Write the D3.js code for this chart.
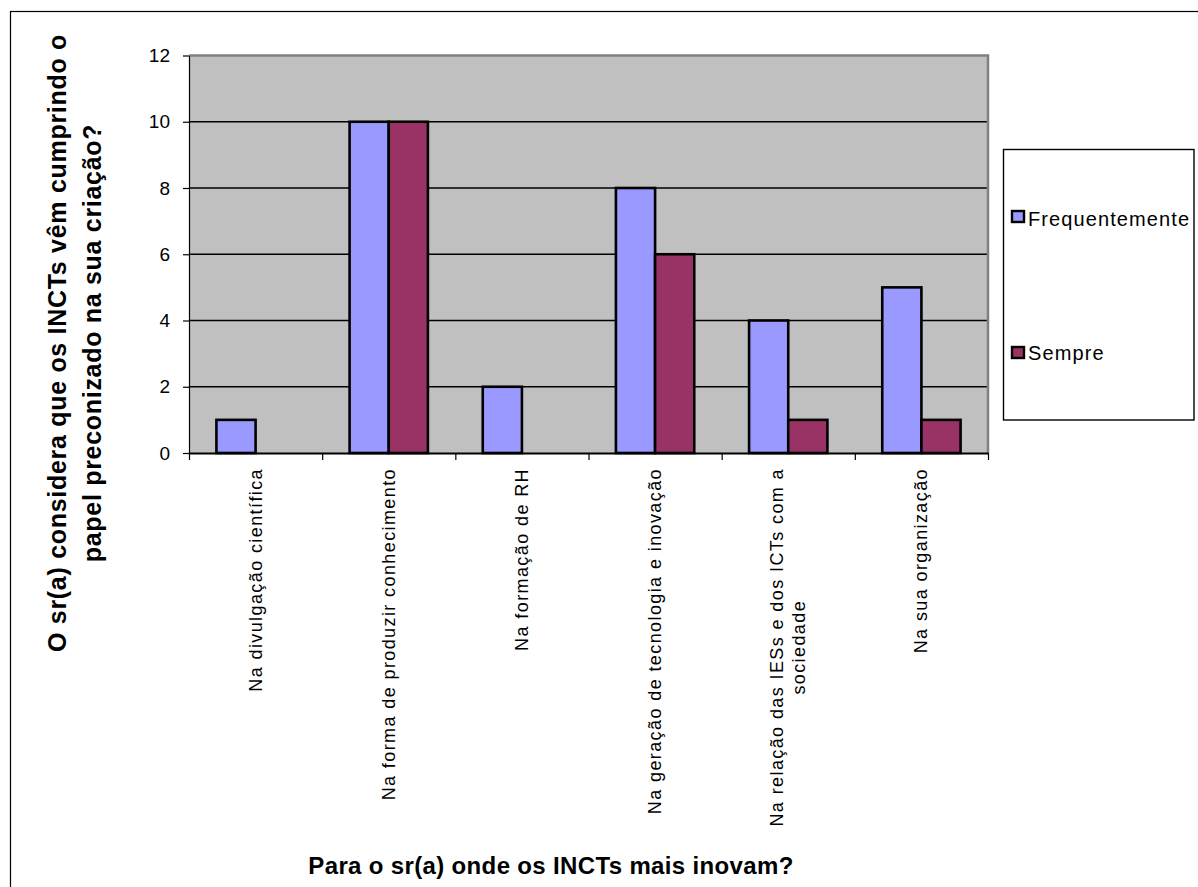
<!DOCTYPE html>
<html>
<head>
<meta charset="utf-8">
<script src="https://cdn.jsdelivr.net/npm/d3@7/dist/d3.min.js"></script>
<style>
  html, body { margin: 0; padding: 0; background: #fff; }
  svg { display: block; font-family: "Liberation Sans", Arial, sans-serif; }
</style>
</head>
<body>
<svg id="chart" width="1198" height="887"></svg>
<script>
// Categories (line breaks mark wrapped labels)
const categories = [
  "Na divulgação científica",
  "Na forma de produzir conhecimento",
  "Na formação de RH",
  "Na geração de tecnologia e inovação",
  "Na relação das IESs e dos ICTs com a\nsociedade",
  "Na sua organização"
];
const seriesNames = ["Frequentemente", "Sempre"];
const frequentemente = [1, 10, 2, 8, 4, 5];
const sempre = [0, 10, 0, 6, 1, 1];
const yTicks = [0, 2, 4, 6, 8, 10, 12];
const seriesColors = ["#9999FF", "#993366"];

const yTitleLines = ["O sr(a) considera que os INCTs vêm cumprindo o", "papel preconizado na sua criação?"];
const xTitle = "Para o sr(a) onde os INCTs mais inovam?";

const svg = d3.select("#chart");

// outer frame (only top and left edges fall inside the view)
svg.append("rect")
  .attr("x", 10.5).attr("y", 11.5)
  .attr("width", 1300).attr("height", 1000)
  .attr("fill", "none").attr("stroke", "#000").attr("stroke-width", 1.2);

const plot = { left: 189, right: 988, top: 55.5, bottom: 453 };

const x0 = d3.scaleBand().domain(d3.range(categories.length))
  .range([plot.left, plot.right]).paddingInner(0).paddingOuter(0);
const x1 = d3.scaleBand().domain(seriesNames)
  .range([0, x0.bandwidth()]).paddingInner(0).paddingOuter(0.7);
const y = d3.scaleLinear().domain([0, 12]).range([plot.bottom, plot.top]);
const xEdge = d3.scaleLinear().domain([0, categories.length]).range([plot.left, plot.right]);

// plot area background
svg.append("rect")
  .attr("x", plot.left).attr("y", plot.top)
  .attr("width", plot.right - plot.left).attr("height", plot.bottom - plot.top)
  .attr("fill", "#C0C0C0");

// gridlines
svg.append("g").selectAll("line")
  .data(yTicks.filter(t => t > 0 && t < 12))
  .join("line")
  .attr("x1", plot.left).attr("x2", plot.right)
  .attr("y1", d => y(d)).attr("y2", d => y(d))
  .attr("stroke", "#000").attr("stroke-width", 1.4);

// top and right frame of the plot area
svg.append("path")
  .attr("d", `M${plot.left},${plot.top} H${plot.right} V${plot.bottom}`)
  .attr("fill", "none").attr("stroke", "#808080").attr("stroke-width", 2.5);

// bars
const rows = categories.map((c, i) => ({ i, values: [frequentemente[i], sempre[i]] }));
const groups = svg.append("g").selectAll("g")
  .data(rows).join("g")
  .attr("transform", d => `translate(${x0(d.i)},0)`);
groups.selectAll("rect")
  .data(d => d.values.map((v, k) => ({ key: seriesNames[k], v, k })).filter(e => e.v > 0))
  .join("rect")
  .attr("x", d => x1(d.key))
  .attr("y", d => y(d.v))
  .attr("width", x1.bandwidth())
  .attr("height", d => y(0) - y(d.v))
  .attr("fill", d => seriesColors[d.k])
  .attr("stroke", "#000").attr("stroke-width", 2.6);

// y axis
const yAxis = svg.append("g")
  .attr("transform", `translate(${plot.left},0)`)
  .call(d3.axisLeft(y).tickValues(yTicks).tickFormat(d3.format("d"))
    .tickSize(6).tickSizeOuter(0).tickPadding(13));
yAxis.select(".domain").attr("stroke", "#000").attr("stroke-width", 1.2);
yAxis.selectAll(".tick line").attr("stroke", "#000").attr("stroke-width", 1.2);
yAxis.selectAll(".tick text")
  .attr("font-size", 19).attr("fill", "#000")
  .attr("font-family", "'Liberation Sans', Arial, sans-serif");

// x axis (ticks at category boundaries)
const xAxis = svg.append("g")
  .attr("transform", `translate(0,${plot.bottom})`)
  .call(d3.axisBottom(xEdge).tickValues(d3.range(categories.length + 1))
    .tickFormat("").tickSize(7).tickSizeOuter(0));
xAxis.select(".domain").attr("stroke", "#000").attr("stroke-width", 2.2);
xAxis.selectAll(".tick line").attr("stroke", "#000").attr("stroke-width", 1.2);

// category labels, rotated, reading bottom to top
const labelTop = 468;
const lineGap = 22;
categories.forEach((c, i) => {
  const lines = c.split("\n");
  const cx = x0(i) + x0.bandwidth() / 2;
  const g = svg.append("g");
  const texts = lines.map((ln, j) => g.append("text")
    .text(ln)
    .attr("font-size", 18)
    .attr("letter-spacing", 1.4)
    .attr("fill", "#000")
    .attr("dominant-baseline", "central"));
  const maxLen = d3.max(texts, t => t.node().getComputedTextLength());
  const cy = labelTop + maxLen / 2;
  texts.forEach((t, j) => {
    const lx = cx + (j - (lines.length - 1) / 2) * lineGap;
    t.attr("text-anchor", "middle")
      .attr("transform", `translate(${lx},${cy}) rotate(-90)`);
  });
});

// y title
yTitleLines.forEach((ln, j) => {
  svg.append("text")
    .text(ln)
    .attr("font-size", 25).attr("font-weight", "bold")
    .attr("letter-spacing", 0.7)
    .attr("text-anchor", "middle")
    .attr("dominant-baseline", "central")
    .attr("transform", `translate(${57 + j * 35},343) rotate(-90)`);
});

// x title
svg.append("text")
  .text(xTitle)
  .attr("x", 551).attr("y", 874)
  .attr("font-size", 24).attr("font-weight", "bold")
  .attr("letter-spacing", 0.35)
  .attr("text-anchor", "middle");

// legend
const legend = svg.append("g");
legend.append("rect")
  .attr("x", 1003.5).attr("y", 149.5).attr("width", 190.5).attr("height", 270.5)
  .attr("fill", "#fff").attr("stroke", "#000").attr("stroke-width", 1.4);
const legendY = [217, 353];
seriesNames.forEach((s, k) => {
  legend.append("rect")
    .attr("x", 1012).attr("y", legendY[k] - 6)
    .attr("width", 12).attr("height", 11)
    .attr("fill", seriesColors[k]).attr("stroke", "#000").attr("stroke-width", 2.4);
  legend.append("text")
    .text(s)
    .attr("x", 1028).attr("y", legendY[k] + (k === 0 ? 9 : 7))
    .attr("font-size", 20).attr("letter-spacing", 1.1)
    .attr("fill", "#000");
});
</script>
</body>
</html>
